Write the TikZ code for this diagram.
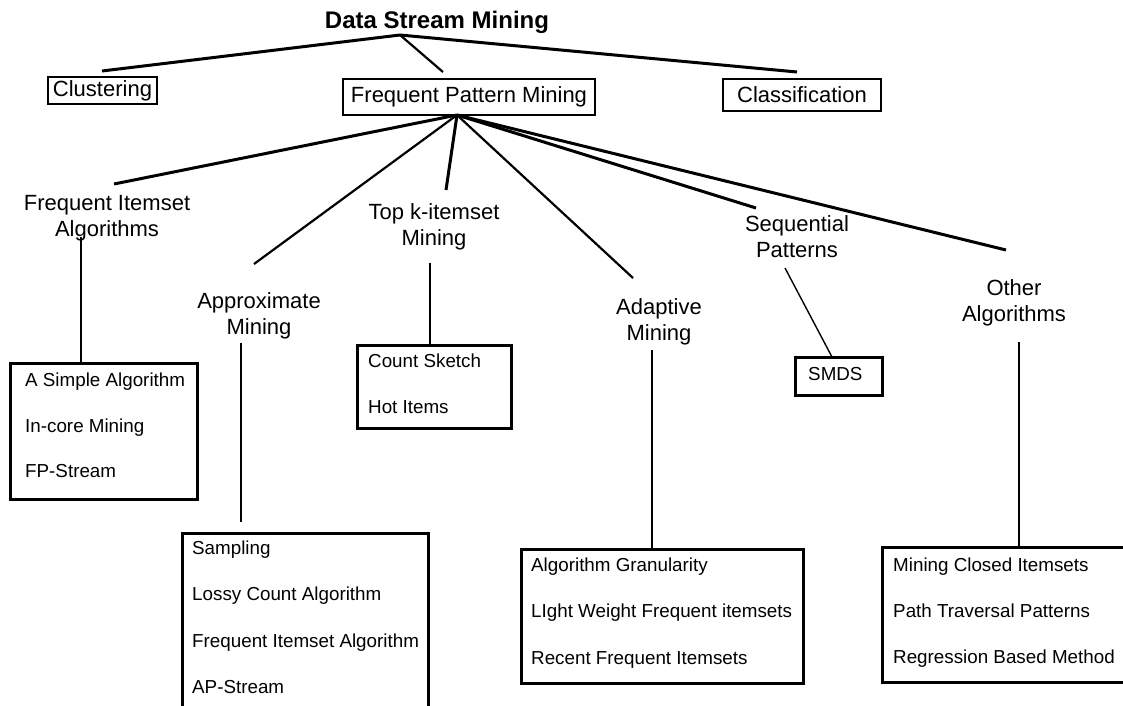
\documentclass[tikz,border=0pt]{standalone}
\usepackage{fontspec}
\setmainfont{Liberation Sans}
\begin{document}
\begin{tikzpicture}[x=1pt,y=-1pt,
  titletext/.style={font=\fontsize{24}{28}\selectfont\bfseries, inner sep=0pt, anchor=base},
  catbox/.style={draw, line width=1.3pt, inner sep=0pt, font=\fontsize{22}{26}\selectfont},
  branch/.style={align=center, inner sep=0pt, font=\fontsize{22}{26}\selectfont},
  listbox/.style={draw, line width=3pt, inner sep=0pt},
  item/.style={anchor=base west, inner sep=0pt, font=\fontsize{18.8}{22}\selectfont},
  heavy/.style={line width=3pt},
  medium/.style={line width=2.2pt},
  fine/.style={line width=1.4pt}]
\useasboundingbox (0,0) rectangle (1123,705);
\fill[white] (0,0) rectangle (1123,705);

% root and first level
\node[titletext] (dsm) at (437,28) {Data Stream Mining};
\coordinate (hubA) at (400,35);
\coordinate (endClu) at (102,71);
\coordinate (endFpm) at (443,72);
\coordinate (endCla) at (797,72);

\node[catbox, minimum width=109pt, minimum height=27pt] (clu) at (102.5,90.5) {Clustering};
\node[catbox, minimum width=252pt, minimum height=36pt] (fpm) at (469,97) {Frequent Pattern Mining};
\node[catbox, minimum width=158pt, minimum height=32pt] (cla) at (802,95) {Classification};

\draw[heavy] (hubA) -- (endClu);
\draw[medium] (hubA) -- (endFpm);
\draw[heavy] (hubA) -- (endCla);

% second level under frequent pattern mining
\coordinate (hubB) at (457,115);
\coordinate (endFia) at (114,184);
\coordinate (endApx) at (254,264);
\coordinate (endTop) at (446,190);
\coordinate (endAda) at (633,278);
\coordinate (endSeq) at (756,208);
\coordinate (endOth) at (1006,250);

\draw[heavy] (hubB) -- (endFia);
\draw[medium] (hubB) -- (endApx);
\draw[heavy] (hubB) -- (endTop);
\draw[medium] (hubB) -- (endAda);
\draw[heavy] (hubB) -- (endSeq);
\draw[heavy] (hubB) -- (endOth);

\node[branch] (fia) at (107,218) {\strut Frequent Itemset\\\strut Algorithms};
\node[branch] (apx) at (259,316) {\strut Approximate\\\strut Mining};
\node[branch] (top) at (434,227) {\strut Top k-itemset\\\strut Mining};
\node[branch] (ada) at (659,322) {\strut Adaptive\\\strut Mining};
\node[branch] (seq) at (797,239) {\strut Sequential\\\strut Patterns};
\node[branch] (oth) at (1014,303) {\strut Other\\\strut Algorithms};

% algorithm lists
\node[listbox, minimum width=187pt, minimum height=136pt] (lFia) at (103.5,431) {};
\node[item] at (25,386) {A Simple Algorithm};
\node[item] at (25,432) {In-core Mining};
\node[item] at (25,477) {FP-Stream};

\node[listbox, minimum width=246pt, minimum height=207pt] (lApx) at (305,636.5) {};
\node[item] at (192,554) {Sampling};
\node[item] at (192,600) {Lossy Count Algorithm};
\node[item] at (192,647) {Frequent Itemset Algorithm};
\node[item] at (192,693) {AP-Stream};

\node[listbox, minimum width=154pt, minimum height=83pt] (lTop) at (434,386.5) {};
\node[item] at (368,367) {Count Sketch};
\node[item] at (368,413) {Hot Items};

\node[listbox, minimum width=282pt, minimum height=134pt] (lAda) at (662,616) {};
\node[item] at (531,571) {Algorithm Granularity};
\node[item] at (531,617) {LIght Weight Frequent itemsets};
\node[item] at (531,664) {Recent Frequent Itemsets};

\node[listbox, minimum width=87pt, minimum height=38pt] (lSeq) at (838.5,376) {};
\node[item] (smds) at (808,380) {SMDS};

\node[listbox, minimum width=242pt, minimum height=135pt] (lOth) at (1003,614.5) {};
\node[item] at (893,571) {Mining Closed Itemsets};
\node[item] at (893,617) {Path Traversal Patterns};
\node[item] at (893,663) {Regression Based Method};

% drops from the branch labels to their lists
\coordinate (dropFia) at (81,237);
\coordinate (dropApx) at (241,343);
\coordinate (footApx) at (241,522);
\coordinate (dropTop) at (430,263);
\coordinate (dropAda) at (652,350);
\coordinate (dropSeq) at (785,268);
\coordinate (footSeq) at (832,357);
\coordinate (dropOth) at (1019,342);

\draw[fine] (dropFia) -- (dropFia |- lFia.north);
\draw[fine] (dropApx) -- (footApx);
\draw[fine] (dropTop) -- (dropTop |- lTop.north);
\draw[fine] (dropAda) -- (dropAda |- lAda.north);
\draw[fine] (dropSeq) -- (footSeq);
\draw[fine] (dropOth) -- (dropOth |- lOth.north);
\end{tikzpicture}
\end{document}
